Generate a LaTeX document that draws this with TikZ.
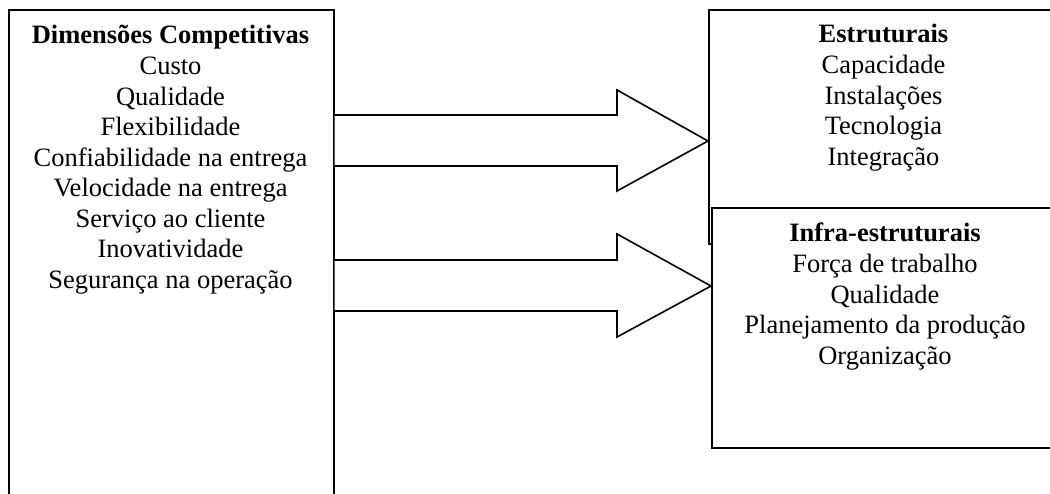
\documentclass[tikz,border=0pt]{standalone}
\usepackage{fontspec}
\setmainfont{Liberation Serif}
\begin{document}
\begin{tikzpicture}[x=1pt,y=-1pt,
  frame/.style={draw,line width=1.6pt,fill=white,inner sep=0pt,anchor=north west},
  blockarrow/.style={draw,line width=1.6pt,fill=white,line join=miter},
  label/.style={anchor=base,inner sep=0pt,font=\fontsize{26.5}{30.5}\selectfont},
  head/.style={label,font=\fontsize{26.5}{30.5}\selectfont\bfseries}]
\useasboundingbox (0,0) rectangle (1050,494);
\clip (0,0) rectangle (1050,494);

% left panel, runs past the lower edge
\node[frame,minimum width=325pt,minimum height=520pt] (dim) at (8,9) {};
\node[head] (dimh) at (170.5,44) {Dimensões Competitivas};
\foreach \t [count=\i from 0] in {Custo,Qualidade,Flexibilidade,Confiabilidade na entrega,Velocidade na entrega,Serviço ao cliente,Inovatividade,Segurança na operação}
  \node[label] (d\i) at (170.5,75+\i*30.45) {\t};

% structural decisions (upper right)
\node[frame,minimum width=360pt,minimum height=234pt] (est) at (708,9) {};
\node[head] (esth) at (883.5,43) {Estruturais};
\foreach \t [count=\i from 0] in {Capacidade,Instalações,Tecnologia,Integração}
  \node[label] (e\i) at (883.5,74+\i*30.45) {\t};

% infrastructural decisions (lower right), drawn over the upper panel
\node[frame,minimum width=360pt,minimum height=240pt] (inf) at (711,207) {};
\node[head] (infh) at (885,242) {Infra-estruturais};
\foreach \t [count=\i from 0] in {Força de trabalho,Qualidade,Planejamento da produção,Organização}
  \node[label] (f\i) at (885,273+\i*30.45) {\t};

% block arrows from the left panel to the right panels
\draw[blockarrow] (dim.east |- 0,115) -- (617,115) -- (617,90) -- (est.west |- 0,141)
  -- (617,191) -- (617,166) -- (dim.east |- 0,166);
\draw[blockarrow] (dim.east |- 0,260) -- (617,260) -- (617,234) -- (inf.west |- 0,286)
  -- (617,337) -- (617,311) -- (dim.east |- 0,311);
\end{tikzpicture}
\end{document}
